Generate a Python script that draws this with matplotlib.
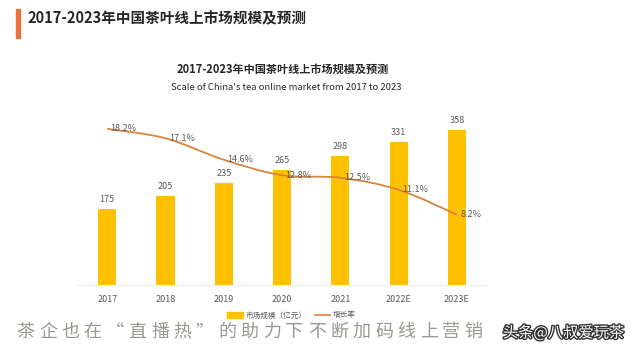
import matplotlib
matplotlib.use('Agg')
import matplotlib.pyplot as plt
import matplotlib.patheffects as pe
from matplotlib.path import Path
from matplotlib.patches import PathPatch, Rectangle
import numpy as np

plt.rcParams['font.family'] = ['Noto Sans CJK SC', 'DejaVu Sans']

# 数据
years = ['2017', '2018', '2019', '2020', '2021', '2022E', '2023E']
market_size = [175, 205, 235, 265, 298, 331, 358]
growth_rate = [18.2, 17.1, 14.6, 12.8, 12.5, 11.1, 8.2]
caption = '茶企也在“直播热”的助力下不断加码线上营销'

bar_color = '#FFC000'
line_color = '#D9843B'
text_gray = '#595959'

fig = plt.figure(figsize=(6.4, 3.6), dpi=100)
fig.patch.set_facecolor('white')

# 顶部标题
fig.patches.append(Rectangle((0.025, 0.895), 0.006, 0.08, transform=fig.transFigure,
                             color='#E8743B', zorder=3))
fig.text(0.043, 0.95, '2017-2023年中国茶叶线上市场规模及预测', fontsize=10.5,
         fontweight='bold', color='#262626', va='center', ha='left')

ax = fig.add_axes([0.122, 0.208, 0.6375, 0.458])
x = np.arange(len(years))
ax.bar(x, market_size, width=0.31, color=bar_color, zorder=2)
for xi, v in zip(x, market_size):
    ax.text(xi, v + 12, str(v), ha='center', va='bottom', fontsize=6.5, color=text_gray)
ax.set_xlim(-0.5, len(years) - 0.5)
ax.set_ylim(0, 381)
ax.set_yticks([])
ax.set_xticks(x)
ax.set_xticklabels(years, fontsize=6.5, color=text_gray)
ax.tick_params(axis='x', length=0, pad=7)
for s in ['top', 'right', 'left']:
    ax.spines[s].set_visible(False)
ax.spines['bottom'].set_color('#EDEDED')

ax2 = ax.twinx()
ax2.set_ylim(0, 19.2)
ax2.set_yticks([])
for s in ax2.spines.values():
    s.set_visible(False)

# 平滑折线（由数据点生成贝塞尔控制点）
pts = np.column_stack([x, growth_rate]).astype(float)
verts = [tuple(pts[0])]
codes = [Path.MOVETO]
t = 0.17
for i in range(len(pts) - 1):
    p0 = pts[i - 1] if i > 0 else pts[i]
    p1, p2 = pts[i], pts[i + 1]
    p3 = pts[i + 2] if i + 2 < len(pts) else pts[i + 1]
    c1 = p1 + (p2 - p0) * t
    c2 = p2 - (p3 - p1) * t
    verts += [tuple(c1), tuple(c2), tuple(p2)]
    codes += [Path.CURVE4] * 3
ax2.add_patch(PathPatch(Path(verts, codes), fill=False, edgecolor=line_color, lw=1.3, zorder=3))
for xi, v in zip(x, growth_rate):
    ax2.text(xi + 0.06, v, f'{v}%', ha='left', va='center', fontsize=6.5, color=text_gray, zorder=4)

# 图内标题
fig.text(0.442, 0.808, '2017-2023年中国茶叶线上市场规模及预测', fontsize=8,
         fontweight='bold', color='#262626', ha='center', va='center')
fig.text(0.447, 0.756, "Scale of China's tea online market from 2017 to 2023", fontsize=6.8,
         color='#262626', ha='center', va='center')

# 图例
fig.patches.append(Rectangle((0.355, 0.116), 0.025, 0.016, transform=fig.transFigure,
                             color=bar_color))
fig.text(0.384, 0.124, '市场规模（亿元）', fontsize=5.5, color=text_gray, va='center')
fig.lines.append(plt.Line2D([0.492, 0.516], [0.124, 0.124], transform=fig.transFigure,
                            color=line_color, lw=1.2))
fig.text(0.52, 0.124, '增长率', fontsize=5.5, color=text_gray, va='center')

# 底部文字（字间距较大）与水印
for i, ch in enumerate(caption):
    fig.text(0.04 + i * 0.035, 0.078, ch, fontsize=13, color='#8E8E86',
             ha='center', va='center', alpha=0.9)
fig.text(0.975, 0.075, '头条@八叔爱玩茶', fontsize=11, color='white', ha='right', va='center',
         path_effects=[pe.withStroke(linewidth=2, foreground='#333333')], zorder=5)

plt.savefig('out.png', dpi=100)
plt.close()
